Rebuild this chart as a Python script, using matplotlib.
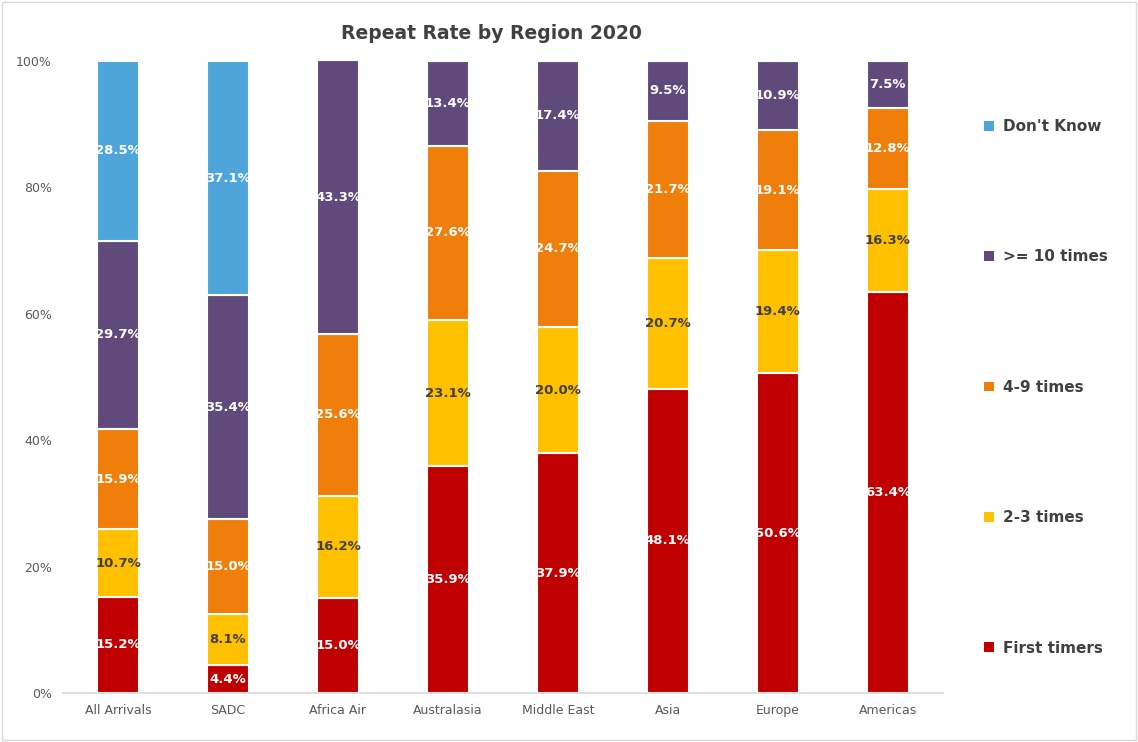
import matplotlib.pyplot as plt
import numpy as np
from matplotlib.patches import Patch, Rectangle

# data (percent of arrivals)
regions = ['All Arrivals', 'SADC', 'Africa Air', 'Australasia', 'Middle East', 'Asia', 'Europe', 'Americas']
first_timers = [15.2, 4.4, 15.0, 35.9, 37.9, 48.1, 50.6, 63.4]
times_2_3 = [10.7, 8.1, 16.2, 23.1, 20.0, 20.7, 19.4, 16.3]
times_4_9 = [15.9, 15.0, 25.6, 27.6, 24.7, 21.7, 19.1, 12.8]
times_10_plus = [29.7, 35.4, 43.3, 13.4, 17.4, 9.5, 10.9, 7.5]
dont_know = [28.5, 37.1, 0, 0, 0, 0, 0, 0]

series_names = ['First timers', '2-3 times', '4-9 times', '>= 10 times', "Don't Know"]
series_colors = ['#C00000', '#FFC000', '#EF7E0B', '#604A7B', '#4EA5DA']
label_colors = ['white', '#404040', 'white', 'white', 'white']

txt_gray = '#595959'

fig = plt.figure(figsize=(11.38, 7.42), dpi=100)
ax = fig.add_axes([0.0554, 0.066, 0.773, 0.852])

x = np.arange(len(regions))
bottom = np.zeros(len(regions))
all_series = [first_timers, times_2_3, times_4_9, times_10_plus, dont_know]
for vals, name, col, lcol in zip(all_series, series_names, series_colors, label_colors):
	vals = np.array(vals)
	ax.bar(x, vals, bottom=bottom, width=0.38, color=col, edgecolor='white', linewidth=1.5, label=name)
	for xi, v, b in zip(x, vals, bottom):
		if v > 0:
			ax.text(xi, b + v / 2, f'{v:.1f}%', ha='center', va='center', color=lcol,
					fontsize=9.5, fontweight='bold')
	bottom += vals

ax.set_xlim(-0.5, len(regions) - 0.5)
ax.set_ylim(0, 100)
ax.set_yticks(np.arange(0, 101, 20))
ax.set_yticklabels([f'{t}%' for t in range(0, 101, 20)])
ax.set_xticks(x)
ax.set_xticklabels(regions)
ax.tick_params(axis='both', length=0, colors=txt_gray, labelsize=9)
ax.tick_params(axis='y', pad=8)
ax.tick_params(axis='x', pad=8)
for side in ['top', 'right', 'left']:
	ax.spines[side].set_visible(False)
ax.spines['bottom'].set_color('#D9D9D9')
ax.spines['bottom'].set_linewidth(1.2)

fig.text(0.432, 0.955, 'Repeat Rate by Region 2020', ha='center', va='center',
		 fontsize=13.5, fontweight='bold', color='#404040')

# legend, top entry first
handles = [Patch(facecolor=c) for c in series_colors[::-1]]
leg = fig.legend(handles, series_names[::-1], loc='center left', bbox_to_anchor=(0.853, 0.478),
				 frameon=False, labelspacing=7.55, handlelength=0.6, handleheight=0.6,
				 handletextpad=0.6, prop={'size': 11, 'weight': 'bold'})
for t in leg.get_texts():
	t.set_color('#404040')

# light gray border round the chart
fig.patches.append(Rectangle((0.002, 0.003), 0.996, 0.994, transform=fig.transFigure,
							 fill=False, edgecolor='#D9D9D9', linewidth=1))

fig.savefig('out.png', dpi=100)
